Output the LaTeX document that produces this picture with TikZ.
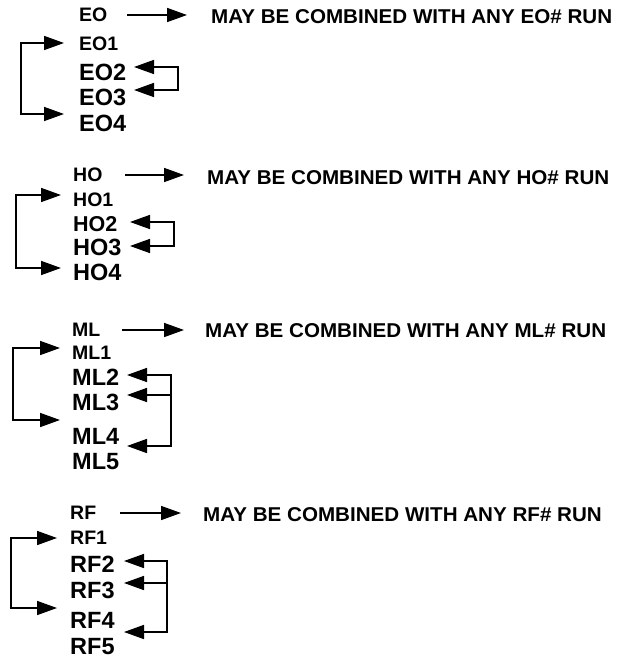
\documentclass[tikz,border=0pt]{standalone}
\usepackage{fontspec}
\setmainfont{Liberation Sans}
\usetikzlibrary{arrows.meta}
\begin{document}
\begin{tikzpicture}[x=1pt,y=-1pt,
  lbl/.style={anchor=west,inner sep=0pt},
  small/.style={lbl,font=\fontsize{19.5}{22}\selectfont\bfseries},
  mid/.style={lbl,font=\fontsize{21.5}{24}\selectfont\bfseries},
  big/.style={lbl,font=\fontsize{23.5}{26}\selectfont\bfseries},
  note/.style={lbl,xscale=1.03,font=\fontsize{20}{24}\selectfont\bfseries},
  arr/.style={-{Triangle[length=20pt,width=14pt]},line width=1.6pt}]
\useasboundingbox (0,0) rectangle (622,660);
% ---------------- EO ----------------
\node[small] (eo)  at (79,15)  {EO};
\node[note]  (eon) at (211,17) {MAY BE COMBINED WITH ANY EO\# RUN};
\node[small] (eo1) at (79,44)  {EO1};
\node[big]   (eo2) at (79,72)  {EO2};
\node[big]   (eo3) at (79,97)  {EO3};
\node[big]   (eo4) at (79,123) {EO4};
\coordinate (eoa) at (127,15);
\coordinate (eob) at (187,15);
\draw[arr] (eoa) -- (eob);
\coordinate (eoL1) at (21,43);
\coordinate (eoL2) at (21,114);
\coordinate (eoT1) at (64,43);
\coordinate (eoT4) at (64,114);
\draw[arr] (eoL2) -- (eoL1) -- (eoT1);
\draw[arr] (eoL1) -- (eoL2) -- (eoT4);
\coordinate (eoR1) at (178,67);
\coordinate (eoR2) at (178,90);
\coordinate (eoT2) at (134,67);
\coordinate (eoT3) at (134,90);
\draw[arr] (eoR2) -- (eoR1) -- (eoT2);
\draw[arr] (eoR1) -- (eoR2) -- (eoT3);
% ---------------- HO ----------------
\node[small] (ho)  at (73,175) {HO};
\node[note]  (hon) at (207,178) {MAY BE COMBINED WITH ANY HO\# RUN};
\node[small] (ho1) at (73,200) {HO1};
\node[mid]   (ho2) at (73,224) {HO2};
\node[big]   (ho3) at (73,247) {HO3};
\node[big]   (ho4) at (73,272) {HO4};
\coordinate (hoa) at (125,175);
\coordinate (hob) at (184,175);
\draw[arr] (hoa) -- (hob);
\coordinate (hoL1) at (16,195);
\coordinate (hoL2) at (16,268);
\coordinate (hoT1) at (61,195);
\coordinate (hoT4) at (61,268);
\draw[arr] (hoL2) -- (hoL1) -- (hoT1);
\draw[arr] (hoL1) -- (hoL2) -- (hoT4);
\coordinate (hoR1) at (174,222);
\coordinate (hoR2) at (174,246);
\coordinate (hoT2) at (130,222);
\coordinate (hoT3) at (130,246);
\draw[arr] (hoR2) -- (hoR1) -- (hoT2);
\draw[arr] (hoR1) -- (hoR2) -- (hoT3);
% ---------------- ML ----------------
\node[small] (ml)  at (72,330) {ML};
\node[note]  (mln) at (205,331) {MAY BE COMBINED WITH ANY ML\# RUN};
\node[small] (ml1) at (72,353) {ML1};
\node[big]   (ml2) at (72,377) {ML2};
\node[big]   (ml3) at (72,402) {ML3};
\node[big]   (ml4) at (72,436) {ML4};
\node[big]   (ml5) at (72,462) {ML5};
\coordinate (mla) at (122,330);
\coordinate (mlb) at (184,330);
\draw[arr] (mla) -- (mlb);
\coordinate (mlL1) at (13,348);
\coordinate (mlL2) at (13,420);
\coordinate (mlT1) at (60,348);
\coordinate (mlT4) at (60,420);
\draw[arr] (mlL2) -- (mlL1) -- (mlT1);
\draw[arr] (mlL1) -- (mlL2) -- (mlT4);
\coordinate (mlR1) at (171,375);
\coordinate (mlR2) at (171,395);
\coordinate (mlR3) at (171,446);
\coordinate (mlT2) at (127,375);
\coordinate (mlT3) at (127,395);
\coordinate (mlT5) at (127,446);
\draw[arr] (mlR3) -- (mlR1) -- (mlT2);
\draw[arr] (mlR2) -- (mlT3);
\draw[arr] (mlR1) -- (mlR3) -- (mlT5);
% ---------------- RF ----------------
\node[small] (rf)  at (70,513) {RF};
\node[note]  (rfn) at (203,515) {MAY BE COMBINED WITH ANY RF\# RUN};
\node[small] (rf1) at (70,538) {RF1};
\node[big]   (rf2) at (70,564) {RF2};
\node[big]   (rf3) at (70,590) {RF3};
\node[big]   (rf4) at (70,620) {RF4};
\node[big]   (rf5) at (70,647) {RF5};
\coordinate (rfa) at (120,513);
\coordinate (rfb) at (181,513);
\draw[arr] (rfa) -- (rfb);
\coordinate (rfL1) at (11,538);
\coordinate (rfL2) at (11,608);
\coordinate (rfT1) at (57,538);
\coordinate (rfT4) at (57,608);
\draw[arr] (rfL2) -- (rfL1) -- (rfT1);
\draw[arr] (rfL1) -- (rfL2) -- (rfT4);
\coordinate (rfR1) at (167,561);
\coordinate (rfR2) at (167,583);
\coordinate (rfR3) at (167,632);
\coordinate (rfT2) at (124,561);
\coordinate (rfT3) at (124,583);
\coordinate (rfT5) at (124,632);
\draw[arr] (rfR3) -- (rfR1) -- (rfT2);
\draw[arr] (rfR2) -- (rfT3);
\draw[arr] (rfR1) -- (rfR3) -- (rfT5);
\end{tikzpicture}
\end{document}
